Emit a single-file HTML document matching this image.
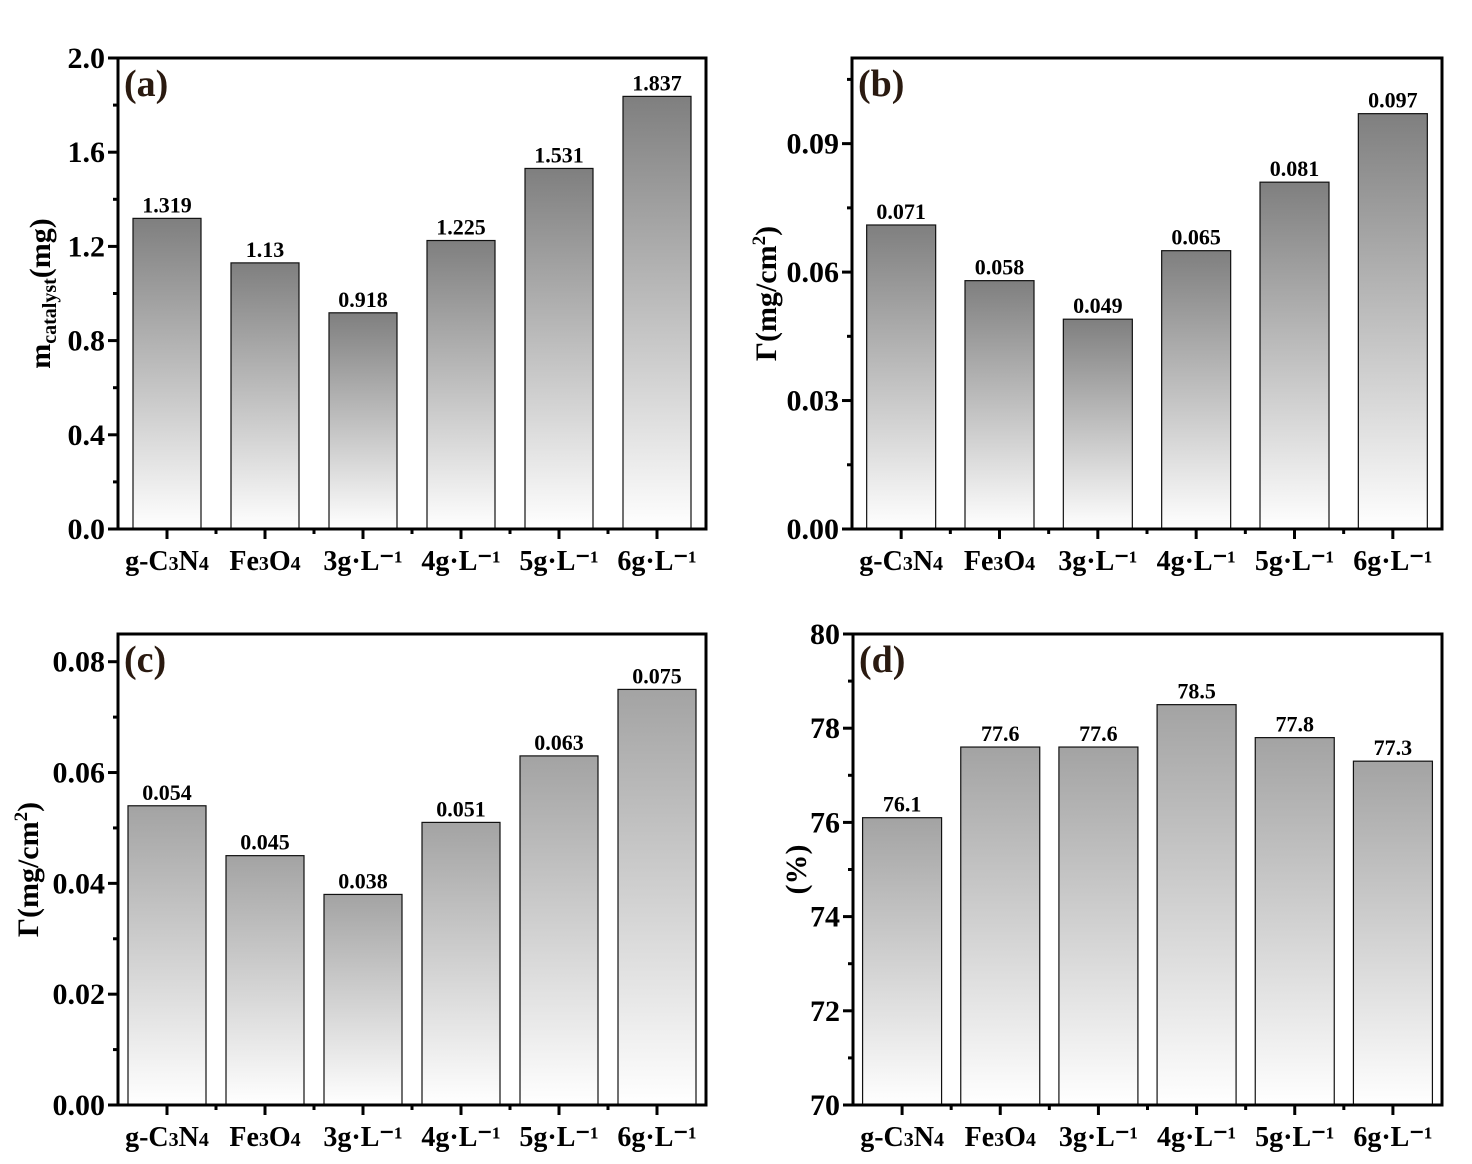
<!DOCTYPE html>
<html><head><meta charset="utf-8"><style>
body{margin:0;background:#fff}
svg{display:block;font-family:"Liberation Serif",serif;font-weight:bold}
</style></head><body>
<svg id="fig" width="1472" height="1164" viewBox="0 0 1472 1164">
<defs>
<linearGradient id="gDark" x1="0" y1="0" x2="0" y2="1"><stop offset="0" stop-color="#7f7f7f"/><stop offset="1" stop-color="#ffffff"/></linearGradient>
<linearGradient id="gLight" x1="0" y1="0" x2="0" y2="1"><stop offset="0" stop-color="#a3a3a3"/><stop offset="1" stop-color="#ffffff"/></linearGradient>
</defs>
</svg>
<script>
const categories = ["g-C3N4","Fe3O4","3g·L⁻¹","4g·L⁻¹","5g·L⁻¹","6g·L⁻¹"];
const valuesA = [1.319,1.13,0.918,1.225,1.531,1.837];
const labelsA = ["1.319","1.13","0.918","1.225","1.531","1.837"];
const ticksA = [0,0.4,0.8,1.2,1.6,2.0];
const tickLabelsA = ["0.0","0.4","0.8","1.2","1.6","2.0"];
const valuesB = [0.071,0.058,0.049,0.065,0.081,0.097];
const labelsB = ["0.071","0.058","0.049","0.065","0.081","0.097"];
const ticksB = [0,0.03,0.06,0.09];
const tickLabelsB = ["0.00","0.03","0.06","0.09"];
const valuesC = [0.054,0.045,0.038,0.051,0.063,0.075];
const labelsC = ["0.054","0.045","0.038","0.051","0.063","0.075"];
const ticksC = [0,0.02,0.04,0.06,0.08];
const tickLabelsC = ["0.00","0.02","0.04","0.06","0.08"];
const valuesD = [76.1,77.6,77.6,78.5,77.8,77.3];
const labelsD = ["76.1","77.6","77.6","78.5","77.8","77.3"];
const ticksD = [70,72,74,76,78,80];
const tickLabelsD = ["70","72","74","76","78","80"];

const NS="http://www.w3.org/2000/svg";
const svg=document.getElementById('fig');
function mk(tag,attrs,parent){const e=document.createElementNS(NS,tag);for(const k in attrs)e.setAttribute(k,attrs[k]);(parent||svg).appendChild(e);return e;}

function xLabel(t,g,x,y){
  const e=mk('text',{x:x,y:y,'text-anchor':'middle','font-size':28},g);
  const m={"g-C3N4":[["g-C",0],["3",1],["N",0],["4",1]],"Fe3O4":[["Fe",0],["3",1],["O",0],["4",1]]};
  if(m[t]){m[t].forEach(p=>{const s=document.createElementNS(NS,'tspan');s.textContent=p[0];if(p[1])s.setAttribute('font-size','20');e.appendChild(s);});}
  else e.textContent=t;
  return e;
}

function panel(o){
  const g=mk('g',{});
  
  
  const L=o.left,R=o.right,T=o.top,B=o.bottom;
  const band=(R-L)/categories.length;
  const y=v=>B-(v-o.min)/(o.max-o.min)*(B-T);
  const x=i=>L+band*(i+0.5);
  categories.forEach((c,i)=>{
    const v=o.values[i];
    const r=mk('rect',{x:x(i)-o.bw/2,y:y(v),width:o.bw,height:B-y(v),fill:'url(#'+o.grad+')',stroke:'#111','stroke-width':1.2},g);
    
    
    const t=mk('text',{x:x(i),y:y(v)-6,'text-anchor':'middle','font-size':22},g);
    t.textContent=o.labels[i];
    
    
    mk('line',{x1:x(i),x2:x(i),y1:B,y2:B+10,stroke:'#000','stroke-width':3},g);
    if(i>0) mk('line',{x1:L+band*i,x2:L+band*i,y1:B,y2:B+5,stroke:'#000','stroke-width':3},g);
    const xl=xLabel(c,g,x(i),B+41);
    
    
  });
  o.ticks.forEach((tv,i)=>{
    mk('line',{x1:L-10,x2:L,y1:y(tv),y2:y(tv),stroke:'#000','stroke-width':3},g);
    const t=mk('text',{x:L-13,y:y(tv)+10,'text-anchor':'end','font-size':30},g);
    t.textContent=o.tickLabels[i];
    
    
    const mv=tv+(o.ticks[1]-o.ticks[0])/2; if(mv<o.max) mk('line',{x1:L-5,x2:L,y1:y(mv),y2:y(mv),stroke:'#000','stroke-width':3},g);
  });
  mk('rect',{x:L,y:T,width:R-L,height:B-T,fill:'none',stroke:'#000','stroke-width':3},g);
  const pl=mk('text',{x:L+6,y:T+38,'font-size':38,fill:'#2a1a10'},g);
  pl.textContent='('+o.id+')';
  
  
  const cy=(T+B)/2;
  const yt=mk('text',{transform:'translate('+o.ylx+','+cy+') rotate(-90)','text-anchor':'middle','font-size':30},g);
  yt.innerHTML=o.ytitle;
  
  
}

panel({id:'a',left:118,right:706,top:58,bottom:529,min:0,max:2.0,values:valuesA,labels:labelsA,ticks:ticksA,tickLabels:tickLabelsA,bw:68,grad:'gDark',ylx:50,
 ytitle:'m<tspan font-size="20" dy="6">catalyst</tspan><tspan dy="-6">(mg)</tspan>'});
panel({id:'b',left:852,right:1442,top:58,bottom:529,min:0,max:0.11,values:valuesB,labels:labelsB,ticks:ticksB,tickLabels:tickLabelsB,bw:69,grad:'gDark',ylx:776,
 ytitle:'Γ(mg/cm<tspan font-size="19" dy="-11">2</tspan><tspan dy="11">)</tspan>'});
panel({id:'c',left:118,right:706,top:634,bottom:1105,min:0,max:0.085,values:valuesC,labels:labelsC,ticks:ticksC,tickLabels:tickLabelsC,bw:78,grad:'gLight',ylx:38,
 ytitle:'Γ(mg/cm<tspan font-size="19" dy="-11">2</tspan><tspan dy="11">)</tspan>'});
panel({id:'d',left:853,right:1442,top:634,bottom:1105,min:70,max:80,values:valuesD,labels:labelsD,ticks:ticksD,tickLabels:tickLabelsD,bw:79,grad:'gLight',ylx:806,
 ytitle:'(%)'});
</script>
</body></html>
